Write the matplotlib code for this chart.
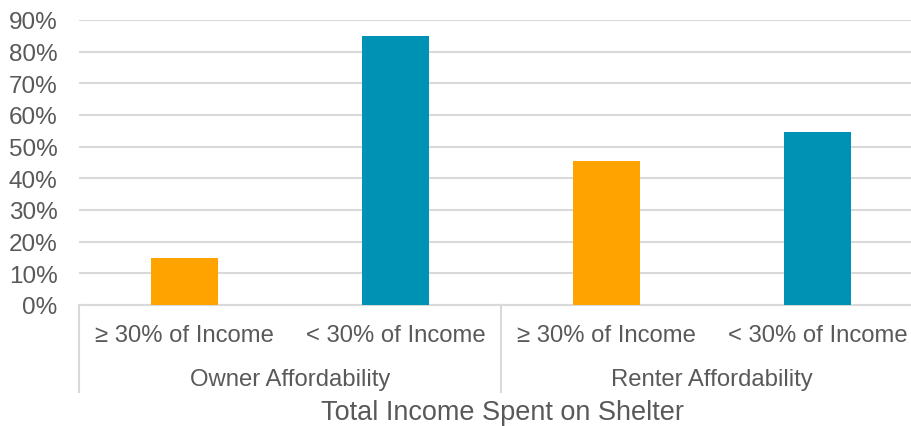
import matplotlib
matplotlib.use("Agg")
import matplotlib.pyplot as plt
import matplotlib.transforms as mtransforms

# Data
sub_labels = ["≥ 30% of Income", "< 30% of Income", "≥ 30% of Income", "< 30% of Income"]
group_labels = ["Owner Affordability", "Renter Affordability"]
values = [15.0, 85.0, 45.5, 54.5]
bar_colors = ["#FFA300", "#0092B5", "#FFA300", "#0092B5"]
y_ticks = [0, 10, 20, 30, 40, 50, 60, 70, 80, 90]
x_title = "Total Income Spent on Shelter"

plt.rcParams['font.family'] = ['Liberation Sans', 'DejaVu Sans']
TEXT = "#595959"
GRID = "#D9D9D9"

W, H = 912, 427
fig = plt.figure(figsize=(W / 100, H / 100), dpi=100)
left_px, right_px, top_px, bottom_px = 79, 912, 21, 306
ax = fig.add_axes([left_px / W, (H - bottom_px) / H, (right_px - left_px) / W, (bottom_px - top_px) / H])

x = list(range(len(values)))
ax.bar(x, values, width=0.317, color=bar_colors, zorder=3)

cat_w = 211.0  # pixels per category
ax.set_xlim(-0.5, -0.5 + (right_px - left_px) / cat_w)
ax.set_ylim(0, 90)
ax.set_yticks(y_ticks)
ax.set_yticklabels([f"{v}%" for v in y_ticks], fontsize=17.5, color=TEXT)
ax.tick_params(axis='y', length=0, pad=15.5)
ax.set_xticks([])
for s in ax.spines.values():
    s.set_visible(False)
ax.grid(axis='y', color=GRID, linewidth=1.5, zorder=0)
ax.set_axisbelow(True)

# Baseline
ax.axhline(0, color=GRID, linewidth=1.5, zorder=2, clip_on=False)

trans = mtransforms.blended_transform_factory(ax.transData, ax.transAxes)
h_px = bottom_px - top_px
sep_bottom = (bottom_px - 393) / h_px
for xs in [-0.5, 1.5, 3.5]:
    ax.plot([xs, xs], [0, sep_bottom], transform=trans, color=GRID, linewidth=1.5, clip_on=False)

sub_y = (bottom_px - 336) / h_px
for xi, lab in zip(x, sub_labels):
    ax.text(xi, sub_y, lab, transform=trans, ha='center', va='center', fontsize=17.2, color=TEXT)

grp_y = (bottom_px - 380) / h_px
for gi, lab in enumerate(group_labels):
    ax.text(2 * gi + 0.5, grp_y, lab, transform=trans, ha='center', va='center', fontsize=17.2, color=TEXT)

fig.text(503 / W, 1 - 413 / H, x_title, ha='center', va='center', fontsize=19.5, color=TEXT)

fig.savefig("out.png", dpi=100)
